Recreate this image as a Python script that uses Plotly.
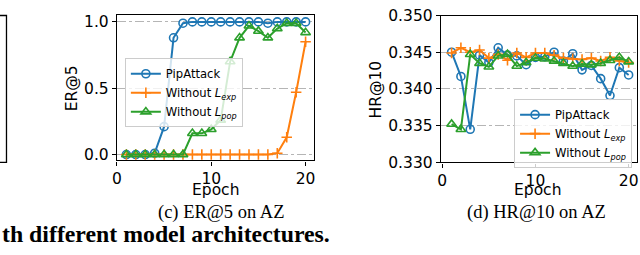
import plotly.graph_objects as go

W, H = 640, 255

epochs = list(range(1, 21))

# (c) ER@5 on AZ
er_pip = [0.0, 0.0, 0.0, 0.01, 0.21, 0.88, 0.99, 1.0, 1.0, 1.0, 1.0, 1.0, 1.0, 1.0, 1.0, 0.99, 1.0, 1.0, 1.0, 1.0]
er_no_exp = [0.0, 0.0, 0.0, 0.0, 0.0, 0.0, 0.0, 0.0, 0.0, 0.0, 0.0, 0.0, 0.0, 0.0, 0.0, 0.0, 0.01, 0.13, 0.47, 0.85]
er_no_pop = [0.0, 0.0, 0.0, 0.0, 0.0, 0.0, 0.0, 0.16, 0.16, 0.19, 0.26, 0.70, 0.88, 0.97, 0.93, 0.88, 0.95, 0.99, 0.99, 0.92]

# (d) HR@10 on AZ
hr_pip = [0.3450, 0.3417, 0.3345, 0.3446, 0.3436, 0.3456, 0.3446, 0.3445, 0.3433, 0.3443,
          0.3444, 0.3450, 0.3438, 0.3448, 0.3426, 0.3432, 0.3414, 0.3391, 0.3429, 0.3419]
hr_no_exp = [0.3449, 0.3456, 0.3450, 0.3453, 0.3442, 0.3447, 0.3439, 0.3449, 0.3443, 0.3449,
             0.3449, 0.3446, 0.3442, 0.3441, 0.3440, 0.3442, 0.3438, 0.3443, 0.3438, 0.3436]
hr_no_pop = [0.3352, 0.3345, 0.3447, 0.3435, 0.3430, 0.3445, 0.3447, 0.3431, 0.3436, 0.3442,
             0.3441, 0.3438, 0.3435, 0.3431, 0.3434, 0.3433, 0.3435, 0.3439, 0.3443, 0.3437]

x_ticks = [0, 10, 20]
er_ticks = [0.0, 0.5, 1.0]
er_ticktext = ["0.0", "0.5", "1.0"]
hr_ticks = [0.330, 0.335, 0.340, 0.345, 0.350]

names = ["PipAttack", "Without <i>L</i><sub><i>exp</i></sub>", "Without <i>L</i><sub><i>pop</i></sub>"]
colors = ["#1f77b4", "#ff7f0e", "#2ca02c"]
symbols = ["circle-open", "cross-thin-open", "triangle-up-open"]
sizes = [8, 7.5, 8.5]

def px(x):
    return x / W

def py(y):
    return 1 - y / H

fig = go.Figure()

for i, ys in enumerate([er_pip, er_no_exp, er_no_pop]):
    fig.add_trace(go.Scatter(
        x=epochs, y=ys, mode="lines+markers", name=names[i],
        line=dict(color=colors[i], width=2),
        marker=dict(symbol=symbols[i], size=sizes[i], color=colors[i],
                    line=dict(color=colors[i], width=1.6)),
        xaxis="x", yaxis="y", legend="legend"))

for i, ys in enumerate([hr_pip, hr_no_exp, hr_no_pop]):
    fig.add_trace(go.Scatter(
        x=epochs, y=ys, mode="lines+markers", name=names[i],
        line=dict(color=colors[i], width=2),
        marker=dict(symbol=symbols[i], size=sizes[i], color=colors[i],
                    line=dict(color=colors[i], width=1.6)),
        xaxis="x2", yaxis="y2", legend="legend2"))

tickfont = dict(family="DejaVu Sans", size=15.5, color="black")
common_x = dict(showline=True, mirror=True, linecolor="black", linewidth=1.3,
                ticks="outside", ticklen=4, tickwidth=1.2, tickcolor="black",
                tickfont=tickfont, showgrid=False, zeroline=False,
                tickmode="array", tickvals=x_ticks, ticklabeloverflow="allow")
common_y = dict(showline=True, mirror=True, linecolor="black", linewidth=1.3,
                ticks="outside", ticklen=4, tickwidth=1.2, tickcolor="black",
                tickfont=tickfont, showgrid=True, gridcolor="#b5b5b5",
                griddash="dashdot", gridwidth=1.2, zeroline=False,
                ticklabeloverflow="allow")

legend_style = dict(bgcolor="rgba(255,255,255,0.8)", bordercolor="#cccccc", borderwidth=1,
                    font=dict(family="DejaVu Sans", size=11.6, color="black"),
                    itemwidth=30, tracegroupgap=0)

fig.update_layout(
    width=W, height=H,
    margin=dict(l=0, r=0, t=0, b=0),
    paper_bgcolor="white", plot_bgcolor="white",
    xaxis=dict(domain=[px(113), px(312)], range=[0, 20.9], anchor="y", **common_x),
    yaxis=dict(domain=[py(163), py(6)], range=[-0.045, 1.055], anchor="x",
               tickvals=er_ticks, ticktext=er_ticktext, **common_y),
    xaxis2=dict(domain=[px(440), px(638)], range=[-0.15, 20.9], anchor="y2", **common_x),
    yaxis2=dict(domain=[py(165), py(7)], range=[0.330, 0.350], anchor="x2",
                tickvals=hr_ticks, tickformat=".3f", **common_y),
    legend=dict(x=px(121), y=py(53), xanchor="left", yanchor="top", **legend_style),
    legend2=dict(x=px(633), y=py(97), xanchor="right", yanchor="top", **legend_style),
    showlegend=True,
)

title_font = dict(family="DejaVu Sans", size=15.5, color="black")
ann = [
    dict(text="ER@5", x=px(68), y=py(85), textangle=-90, font=title_font),
    dict(text="HR@10", x=px(374), y=py(86), textangle=-90, font=title_font),
    dict(text="Epoch", x=px(212), y=py(195), font=title_font),
    dict(text="Epoch", x=px(538), y=py(195), font=title_font),
    dict(text="(c) ER@5 on AZ", x=px(218), y=py(219),
         font=dict(family="Liberation Serif", size=18.5, color="black")),
    dict(text="(d) HR@10 on AZ", x=px(537), y=py(219),
         font=dict(family="Liberation Serif", size=18.5, color="black")),
    dict(text="<b>th different model architectures.</b>", x=px(330), y=py(242), xanchor="right",
         font=dict(family="Liberation Serif", size=23.8, color="black")),
]
for a in ann:
    a.setdefault("xanchor", "center")
    fig.add_annotation(xref="paper", yref="paper", yanchor="middle", showarrow=False, **a)

# partial frame of the neighbouring panel at the left edge
fig.add_shape(type="rect", xref="paper", yref="paper",
              x0=-0.02, x1=px(1.5), y0=py(165), y1=py(7),
              line=dict(color="black", width=1.3))

fig.write_html("out.html",
               config={"displayModeBar": False},
               post_script="document.body.style.margin='0';document.body.style.overflow='hidden';")
